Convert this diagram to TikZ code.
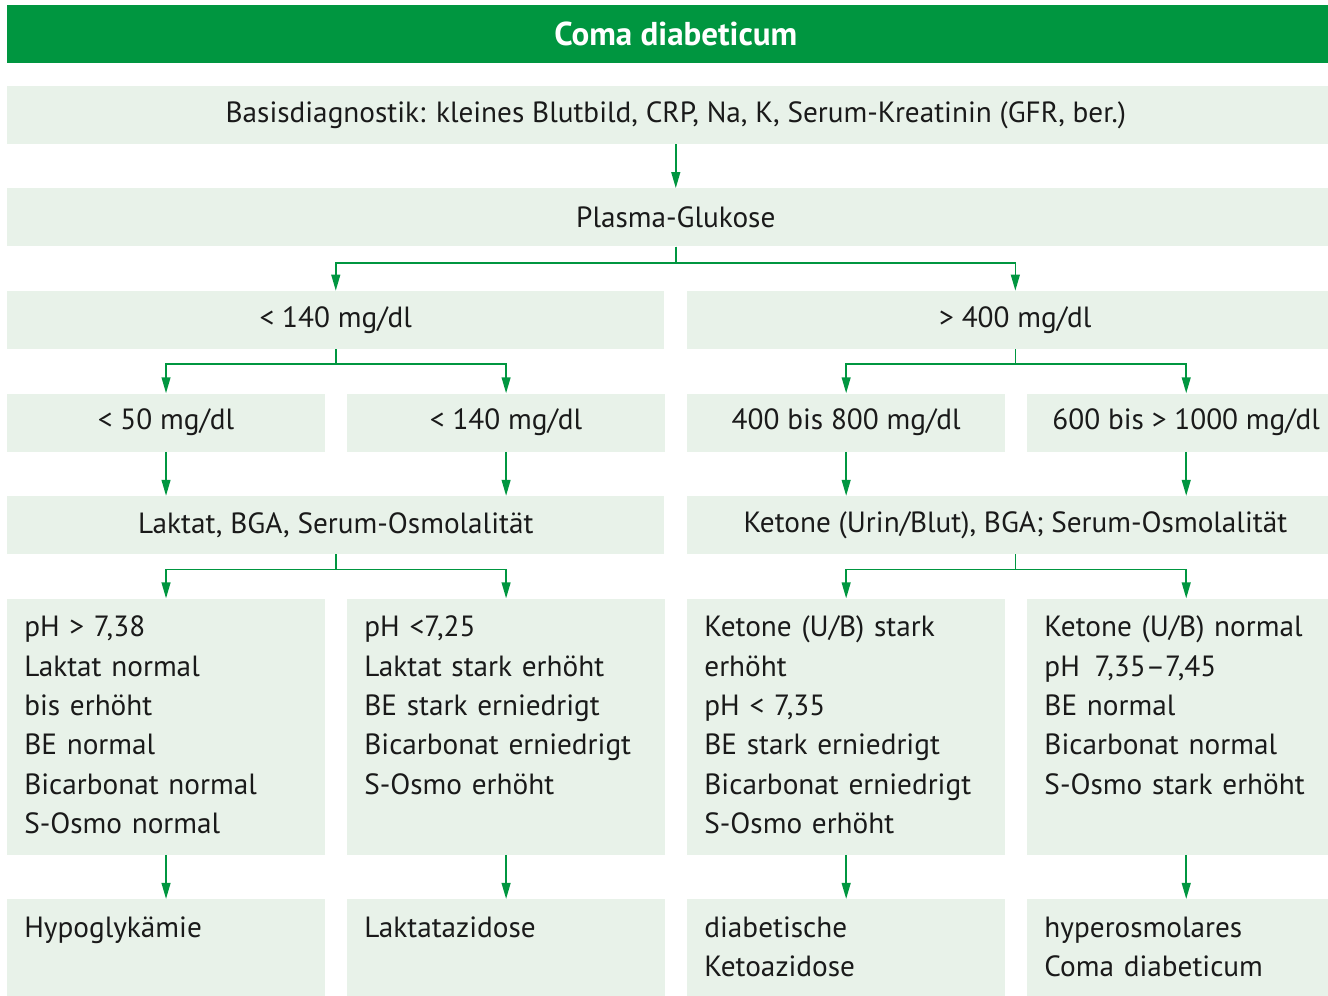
\documentclass[tikz,border=0pt]{standalone}
\usepackage{fontspec}
\setmainfont{PT Sans}
\usepackage{tikz}
\usetikzlibrary{positioning, arrows.meta}

\definecolor{thiemegreen}{RGB}{0,150,64}
\definecolor{boxgreen}{RGB}{232,242,233}
\definecolor{inkgray}{RGB}{26,26,26}

\begin{document}
\begin{tikzpicture}[
			node distance=1.1cm and 0.55cm,
			head/.style={rectangle, fill=thiemegreen, text=white, minimum width=33.425cm, minimum height=1.45cm, inner sep=0pt, font=\fontsize{23.5}{28}\selectfont\bfseries},
			bar/.style={rectangle, fill=boxgreen, text=inkgray, minimum width=33.425cm, minimum height=1.45cm, inner sep=0pt, font=\fontsize{20.8}{28}\selectfont},
			half/.style={bar, minimum width=16.425cm},
			quarter/.style={bar, minimum width=7.9375cm},
			finding/.style={quarter, align=left, inner xsep=0.425cm, inner ysep=0pt, text width=7.0875cm, text height=0.95cm},
			link/.style={-{Triangle[length=4mm, width=2.2mm]}, line width=1.2pt, draw=thiemegreen}
			]
			\useasboundingbox (0,0) rectangle (33.2,-24.875);
			
			\node[head, anchor=north west] (title) at (0.175,-0.125) {Coma diabeticum};
			\node[bar, below=0.55cm of title] (basis) {Basisdiagnostik: kleines Blutbild, CRP, Na, K, Serum-Kreatinin (GFR, ber.)};
			\node[bar, below=of basis] (plasma) {Plasma-Glukose};
			
			% Glukose-Bereiche
			\node[half, below=of plasma.south west, anchor=north west] (low) {< 140 mg/dl};
			\node[half, right=of low] (high) {> 400 mg/dl};
			
			\node[quarter, below=of low.south west, anchor=north west] (low1) {< 50 mg/dl};
			\node[quarter, right=of low1] (low2) {< 140 mg/dl};
			\node[quarter, right=of low2] (high1) {400 bis 800 mg/dl};
			\node[quarter, right=of high1] (high2) {600 bis > 1000 mg/dl};
			
			% weitere Diagnostik
			\node[half, below=of low1.south west, anchor=north west] (lab) {Laktat, BGA, Serum-Osmolalität};
			\node[half, right=of lab] (keto) {Ketone (Urin/Blut), BGA; Serum-Osmolalität};
			
			% Befunde
			\node[finding, text depth=5.45cm, below=of lab.south west, anchor=north west] (f1) {pH > 7,38\\Laktat normal\\bis erhöht\\BE normal\\Bicarbonat normal\\S-Osmo normal};
			\node[finding, text depth=5.45cm, right=of f1] (f2) {pH <7,25\\Laktat stark erhöht\\BE stark erniedrigt\\Bicarbonat erniedrigt\\S-Osmo erhöht};
			\node[finding, text depth=5.45cm, right=of f2] (f3) {Ketone (U/B) stark\\erhöht\\pH < 7,35\\BE stark erniedrigt\\Bicarbonat erniedrigt\\S-Osmo erhöht};
			\node[finding, text depth=5.45cm, right=of f3] (f4) {Ketone (U/B) normal\\pH\enspace 7,35–7,45\\BE normal\\Bicarbonat normal\\S-Osmo stark erhöht};
			
			% Diagnosen
			\node[finding, text depth=1.65cm, below=of f1] (d1) {Hypoglykämie};
			\node[finding, text depth=1.65cm, below=of f2] (d2) {Laktatazidose};
			\node[finding, text depth=1.65cm, below=of f3] (d3) {diabetische\\Ketoazidose};
			\node[finding, text depth=1.65cm, below=of f4] (d4) {hyperosmolares\\Coma diabeticum};
			
			\draw[link] (basis) -- (plasma);
			\draw[link] (plasma.south) -- ++(0,-0.4) -| (low.north);
			\draw[link] (plasma.south) -- ++(0,-0.4) -| (high.north);
			\draw[link] (low.south) -- ++(0,-0.375) -| (low1.north);
			\draw[link] (low.south) -- ++(0,-0.375) -| (low2.north);
			\draw[link] (high.south) -- ++(0,-0.375) -| (high1.north);
			\draw[link] (high.south) -- ++(0,-0.375) -| (high2.north);
			\draw[link] (low1) -- (low1 |- lab.north);
			\draw[link] (low2) -- (low2 |- lab.north);
			\draw[link] (high1) -- (high1 |- keto.north);
			\draw[link] (high2) -- (high2 |- keto.north);
			\draw[link] (lab.south) -- ++(0,-0.375) -| (f1.north);
			\draw[link] (lab.south) -- ++(0,-0.375) -| (f2.north);
			\draw[link] (keto.south) -- ++(0,-0.375) -| (f3.north);
			\draw[link] (keto.south) -- ++(0,-0.375) -| (f4.north);
			\draw[link] (f1) -- (d1);
			\draw[link] (f2) -- (d2);
			\draw[link] (f3) -- (d3);
			\draw[link] (f4) -- (d4);
		\end{tikzpicture}
\end{document}
